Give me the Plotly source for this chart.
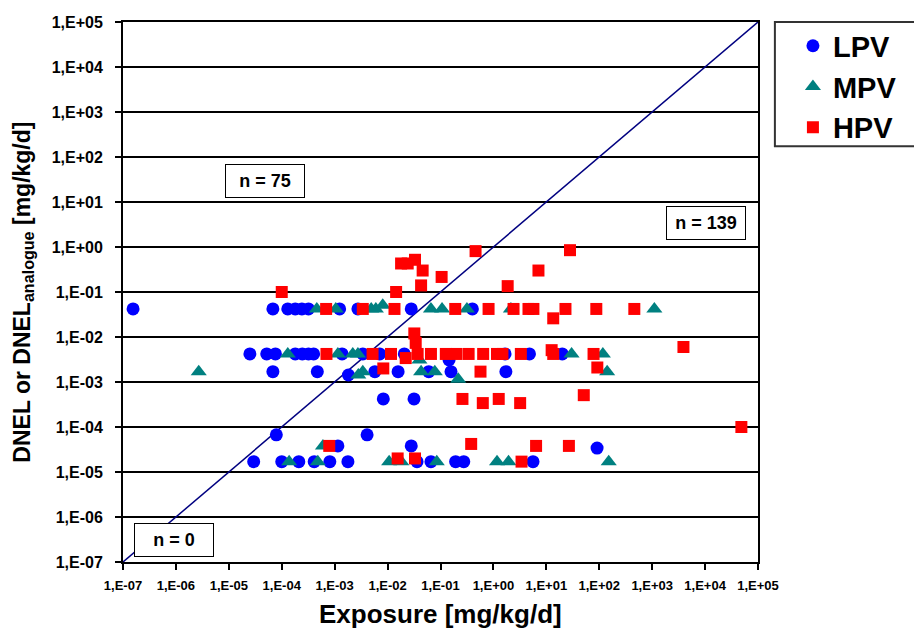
import plotly.graph_objects as go

# ---------------- data ----------------
lpv_x = [1.55e-7, 6.8e-5, 1.3e-4, 1.8e-4, 2.4e-4, 3.2e-4, 1.24e-3, 2.75e-3, 2.8e-2, 0.40,
         2.5e-5, 5.2e-5, 7.6e-5, 1.8e-4, 2.45e-4, 3.2e-4, 4.0e-4, 1.38e-3, 3.4e-3, 7.1e-3, 2.07e-2, 1.66, 4.8, 20, 0.145,
         6.8e-5, 4.7e-4, 1.82e-3, 5.75e-3, 1.58e-2, 6.0e-2, 0.158, 1.72,
         8.3e-3, 3.16e-2,
         7.9e-5, 4.1e-3,
         1.15e-3, 2.8e-2, 91,
         2.95e-5, 1.0e-4, 2.1e-4, 4.1e-4, 8.1e-4, 1.78e-3, 3.6e-2, 6.6e-2, 0.193, 0.275, 5.6]
lpv_y = [0.042] * 10 + \
        [0.0042] * 14 + [0.0031] + \
        [0.0017, 0.0017, 0.00143, 0.0017, 0.0017, 0.0017, 0.0017, 0.0017] + \
        [4.2e-4, 4.2e-4] + \
        [6.7e-5, 6.7e-5] + \
        [3.8e-5, 3.8e-5, 3.4e-5] + \
        [1.7e-5] * 11

mpv_x = [4.6e-4, 1.05e-3, 4.9e-3, 6.0e-3, 8.1e-3, 6.6e-2, 0.107, 0.316, 2.14, 1100,
         1.3e-4, 1.15e-3, 2.2e-3, 2.75e-3, 30, 117, 0.040,
         2.7e-6, 2.8e-3, 3.4e-3, 0.043, 0.078, 0.216, 141,
         6.0e-4,
         1.38e-4, 4.8e-4, 1.07e-2, 1.82e-2, 8.5e-2, 1.17, 1.93, 151]
mpv_y = [0.042, 0.042, 0.042, 0.042, 0.051, 0.042, 0.042, 0.042, 0.042, 0.042,
         0.0042, 0.0042, 0.0042, 0.0042, 0.0042, 0.0042, 0.0031,
         0.0017, 0.00143, 0.0017, 0.0017, 0.0017, 0.00115, 0.0017,
         3.8e-5,
         1.7e-5, 1.7e-5, 1.7e-5, 1.7e-5, 1.7e-5, 1.7e-5, 1.7e-5, 1.7e-5]

hpv_x = [1.0e-4, 0.0145, 0.018, 0.024, 0.033, 0.046, 0.043, 0.105, 0.46, 1.86, 7.1, 28,
         6.9e-4, 3.4e-3, 0.0135, 0.19, 0.81, 2.4, 4.6, 5.7, 13.5, 23, 88, 460,
         7.0e-4, 5.2e-3, 0.0116, 0.022, 0.032, 0.034, 0.037, 0.066, 0.126, 0.2, 0.34, 0.64,
         1.17, 1.48, 3.3, 12.6, 13.5, 78, 3900,
         8.3e-3, 0.57, 92,
         0.26, 0.63, 1.26, 3.2, 51,
         48500,
         7.9e-4, 0.38, 6.4, 26.7,
         0.0155, 0.033, 3.4]
hpv_y = [0.1, 0.1, 0.43, 0.43, 0.52, 0.30, 0.14, 0.216, 0.81, 0.135, 0.30, 0.85,
         0.042, 0.042, 0.042, 0.042, 0.042, 0.042, 0.042, 0.042, 0.026, 0.042, 0.042, 0.042,
         0.0042, 0.0042, 0.0042, 0.0034, 0.012, 0.0074, 0.0042, 0.0042, 0.0042, 0.0042, 0.0042, 0.0042,
         0.0042, 0.0042, 0.0042, 0.0051, 0.0042, 0.0042, 0.006,
         0.002, 0.0017, 0.0021,
         4.2e-4, 3.4e-4, 4.2e-4, 3.4e-4, 5.1e-4,
         1.0e-4,
         3.8e-5, 4.2e-5, 3.8e-5, 3.8e-5,
         2.0e-5, 2.0e-5, 1.7e-5]

tick_vals = [1e-7, 1e-6, 1e-5, 1e-4, 1e-3, 1e-2, 1e-1, 1e0, 1e1, 1e2, 1e3, 1e4, 1e5]
tick_text = ["1,E-07", "1,E-06", "1,E-05", "1,E-04", "1,E-03", "1,E-02", "1,E-01",
             "1,E+00", "1,E+01", "1,E+02", "1,E+03", "1,E+04", "1,E+05"]
diag = [1e-7, 1e5]

box_labels = ["n = 75", "n = 139", "n = 0"]
box_pos_log = [(-4.32, 1.47), (4.01, 0.53), (-6.045, -6.51)]

FONT = "Arial, Liberation Sans, sans-serif"

fig = go.Figure()
fig.add_trace(go.Scatter(x=diag, y=diag, mode="lines", line=dict(color="#000080", width=1.5),
                         showlegend=False, hoverinfo="skip"))
fig.add_trace(go.Scatter(x=lpv_x, y=lpv_y, mode="markers", name="LPV",
                         marker=dict(symbol="circle", size=13, color="#0000FF", line=dict(width=0))))
fig.add_trace(go.Scatter(x=mpv_x, y=mpv_y, mode="markers", name="MPV",
                         marker=dict(symbol="triangle-up", size=14, color="#008080", line=dict(width=0))))
fig.add_trace(go.Scatter(x=hpv_x, y=hpv_y, mode="markers", name="HPV",
                         marker=dict(symbol="square", size=12, color="#FF0000", line=dict(width=0))))

axis_common = dict(type="log", tickvals=tick_vals, ticktext=tick_text,
                   showline=True, linecolor="black", linewidth=2, mirror=True,
                   ticks="outside", ticklen=6, tickwidth=2, tickcolor="black",
                   zeroline=False)
fig.update_xaxes(**axis_common, range=[-7, 5], showgrid=False,
                 tickfont=dict(family=FONT, size=13, color="black", weight="bold"),
                 ticklabelstandoff=4)
fig.update_yaxes(**axis_common, range=[-7, 5], showgrid=True, gridcolor="black", gridwidth=1.5,
                 tickfont=dict(family=FONT, size=16, color="black", weight="bold"),
                 ticklabelstandoff=9)

annotations = []
for lab, (lx, ly) in zip(box_labels, box_pos_log):
    annotations.append(dict(x=lx, y=ly, xref="x", yref="y", text="<b>" + lab + "</b>",
                            showarrow=False, font=dict(family=FONT, size=18, color="black"),
                            bgcolor="white", bordercolor="black", borderwidth=1, borderpad=0,
                            width=78, height=32, align="center", valign="middle"))
annotations.append(dict(x=0.5, y=-0.097, xref="paper", yref="paper",
                        text="<b>Exposure [mg/kg/d]</b>", showarrow=False,
                        font=dict(family=FONT, size=26, color="black"), yanchor="middle"))
annotations.append(dict(x=-0.158, y=0.5, xref="paper", yref="paper", textangle=-90,
                        text="<b>DNEL or DNEL<sub>analogue</sub> [mg/kg/d]</b>", showarrow=False,
                        font=dict(family=FONT, size=23, color="black"), xanchor="center", yanchor="middle"))

fig.update_layout(
    width=914, height=630,
    margin=dict(l=123, r=153, t=22, b=68),
    paper_bgcolor="white", plot_bgcolor="white",
    annotations=annotations,
    shapes=[dict(type="rect", xref="paper", yref="paper", x0=1.0266, x1=1.26, y0=0.770, y1=1.0,
                 line=dict(color="#333333", width=2), fillcolor="white", layer="below")],
    legend=dict(x=1.055, y=1.003, xanchor="left", yanchor="top",
                font=dict(family=FONT, size=29, color="black", weight="bold"),
                bgcolor="rgba(0,0,0,0)", borderwidth=0, itemsizing="trace"),
    showlegend=True,
)

fig.write_html("out.html")
